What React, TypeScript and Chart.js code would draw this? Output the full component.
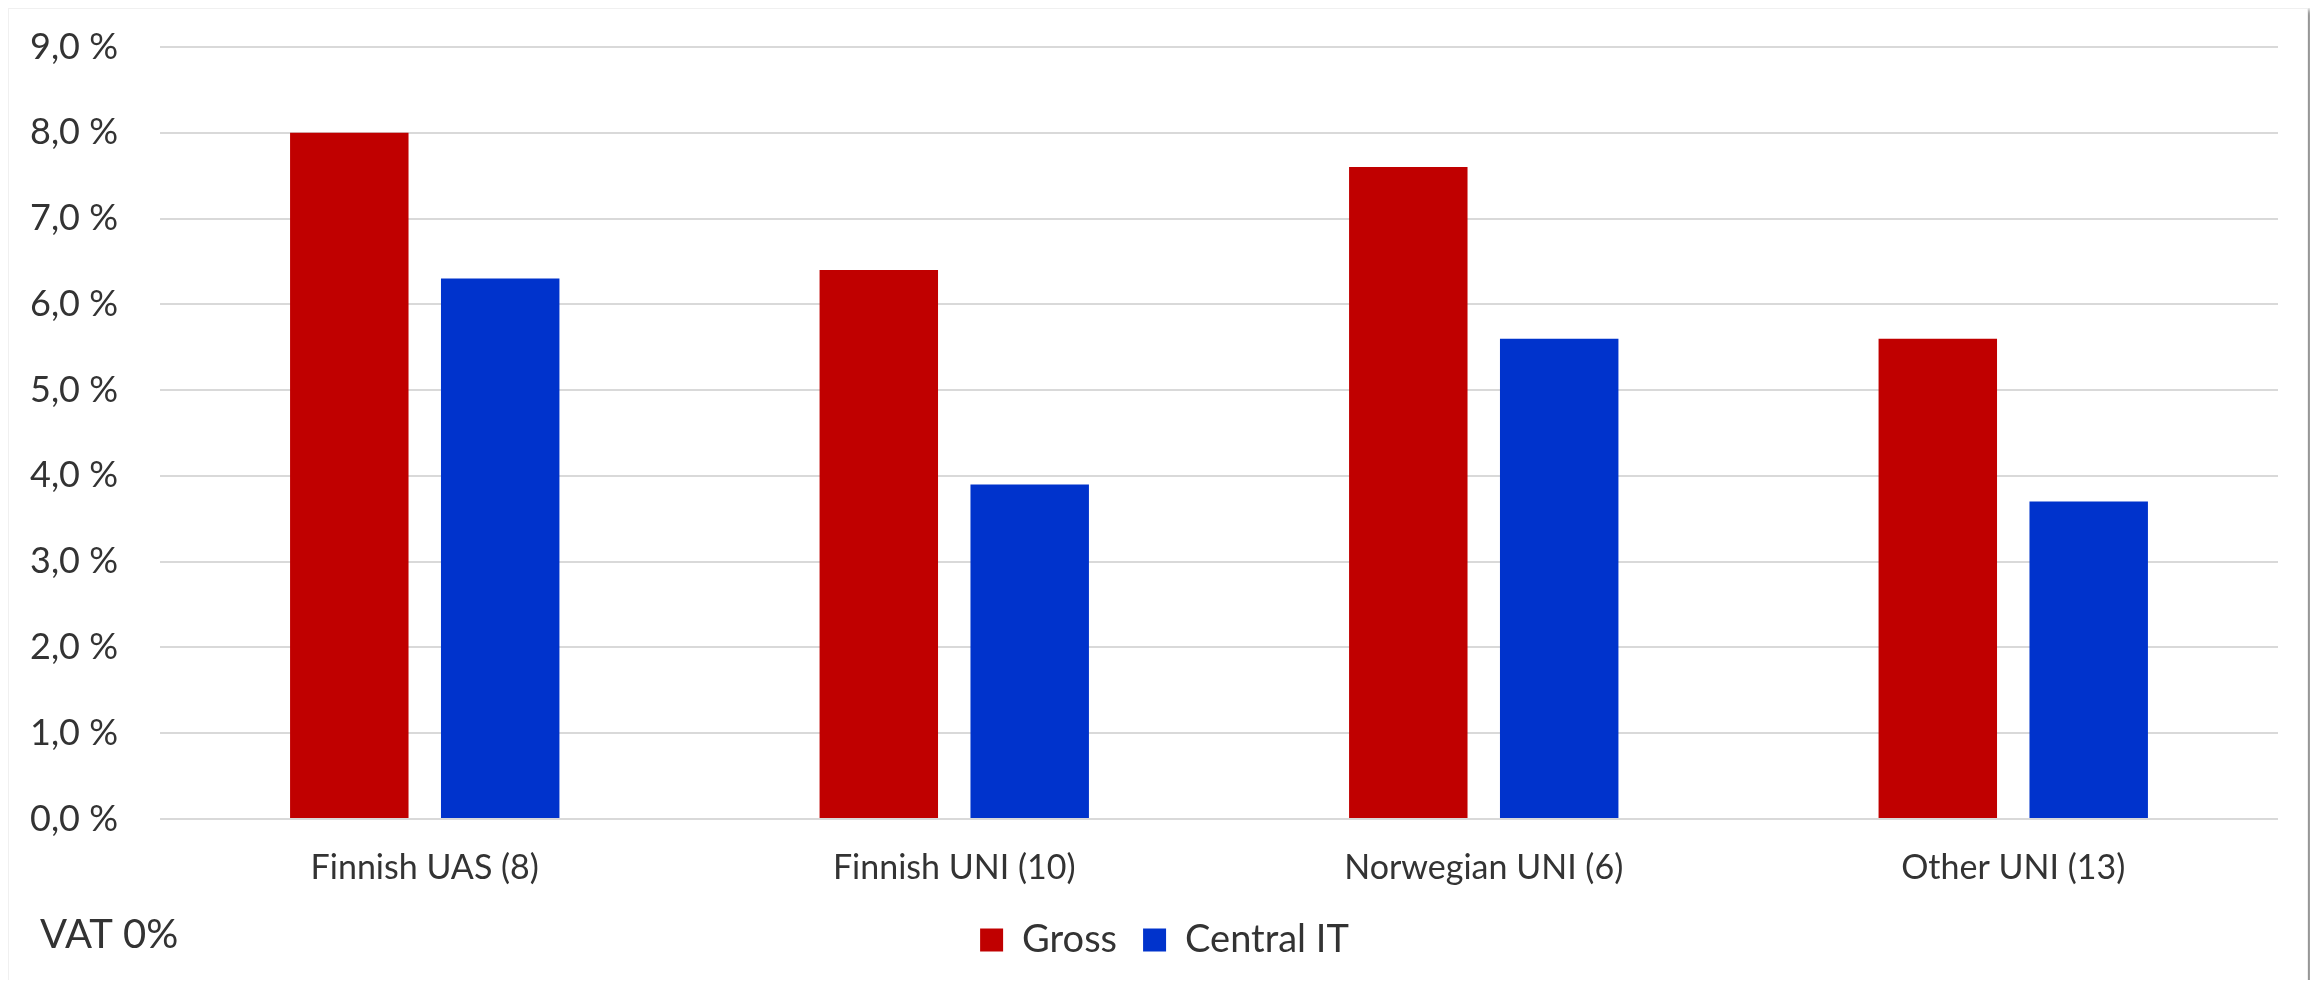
import React, { useEffect, useRef } from "react";
import { Chart, registerables } from "chart.js";

Chart.register(...registerables);

const categories = ["Finnish UAS (8)", "Finnish UNI (10)", "Norwegian UNI (6)", "Other UNI (13)"];
const grossValues = [8.0, 6.4, 7.6, 5.6];
const centralItValues = [6.3, 3.9, 5.6, 3.7];
const seriesNames = ["Gross", "Central IT"];
const noteText = "VAT 0%";

const FONT = "Lato, 'Noto Sans', sans-serif";
const TEXT = "#333333";

const notePlugin = {
  id: "notePlugin",
  afterLayout(chart: any) {
    // centre the legend on the whole card rather than on the padded area
    const lg = chart.legend;
    if (lg) {
      lg.left += 21;
      lg.right += 21;
    }
  },
  afterDraw(chart: any) {
    const ctx = chart.ctx;
    ctx.save();
    ctx.font = `40px ${FONT}`;
    ctx.fillStyle = TEXT;
    ctx.textBaseline = "middle";
    ctx.textAlign = "left";
    ctx.fillText(noteText, 31, 926);
    ctx.restore();
  },
};

export default function App() {
  const ref = useRef<HTMLCanvasElement>(null);
  useEffect(() => {
    if (!ref.current) return;
    const chart = new Chart(ref.current, {
      type: "bar",
      data: {
        labels: categories,
        datasets: [
          {
            label: seriesNames[0],
            data: grossValues,
            backgroundColor: "#C00000",
            categoryPercentage: 0.57,
            barPercentage: 0.785,
          },
          {
            label: seriesNames[1],
            data: centralItValues,
            backgroundColor: "#0033CC",
            categoryPercentage: 0.57,
            barPercentage: 0.785,
          },
        ],
      },
      options: {
        animation: false,
        responsive: false,
        maintainAspectRatio: false,
        layout: { padding: { top: 38, left: 0, right: 29, bottom: 40 } },
        plugins: {
          legend: {
            position: "bottom",
            labels: {
              boxWidth: 23,
              boxHeight: 23,
              padding: 26,
              color: TEXT,
              font: { family: FONT, size: 38 },
            },
          },
          tooltip: { enabled: false },
        },
        scales: {
          x: {
            grid: { display: false, drawTicks: false },
            border: { display: false },
            ticks: { color: TEXT, padding: 25, font: { family: FONT, size: 34, lineHeight: 1.4 } },
            afterFit: (scale: any) => {
              scale.height = 76;
            },
          },
          y: {
            min: 0,
            max: 9,
            grid: { color: "#d9d9d9", lineWidth: 2, drawTicks: false },
            border: { display: false },
            ticks: {
              stepSize: 1,
              padding: 42,
              color: TEXT,
              font: { family: FONT, size: 36 },
              callback: (v: any) => Number(v).toFixed(1).replace(".", ",") + " %",
            },
            afterFit: (scale: any) => {
              scale.width = 151;
              scale.paddingTop = 0;
              scale.paddingBottom = 0;
            },
          },
        },
      },
      plugins: [notePlugin],
    });
    return () => chart.destroy();
  }, []);

  return (
    <div style={{ height: 972, overflow: "hidden", paddingRight: 8 }}>
      <div
        style={{
          width: 2298,
          height: 1000,
          border: "1px solid #f0f0f0",
          boxShadow: "4px 2px 5px rgba(0,0,0,0.45)",
          background: "#fff",
        }}
      >
        <canvas ref={ref} width={2298} height={1000} style={{ display: "block" }} />
      </div>
    </div>
  );
}
